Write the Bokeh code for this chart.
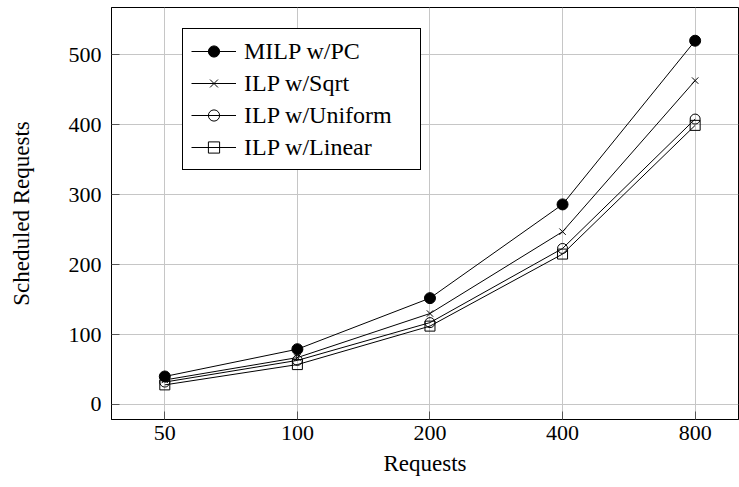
from bokeh.plotting import figure
from bokeh.models import Range1d, FixedTicker, Legend, LegendItem
from bokeh.embed import file_html
from bokeh.resources import INLINE

requests = ["50", "100", "200", "400", "800"]
milp_pc = [40, 79, 152, 286, 520]
ilp_sqrt = [35, 67, 130, 247, 463]
ilp_uniform = [32, 63, 117, 223, 408]
ilp_linear = [28, 57, 112, 215, 399]
y_ticks = [0, 100, 200, 300, 400, 500]

xs = list(range(len(requests)))
FONT = "Liberation Serif"

p = figure(width=739, height=487, output_backend="svg", toolbar_location=None,
           x_range=Range1d(-0.402, 4.327), y_range=Range1d(-21.5, 567.5),
           min_border_left=111, min_border_right=1, min_border_top=7,
           min_border_bottom=68)

p.outline_line_color = "black"
p.outline_line_alpha = 1
p.outline_line_width = 1
p.background_fill_color = "white"

p.xaxis.ticker = FixedTicker(ticks=xs)
p.xaxis.major_label_overrides = {i: s for i, s in zip(xs, requests)}
p.yaxis.ticker = FixedTicker(ticks=y_ticks)

for ax in (p.xaxis[0], p.yaxis[0]):
    ax.axis_line_color = "black"
    ax.major_tick_in = 8
    ax.major_tick_out = 0
    ax.major_tick_line_color = "#555555"
    ax.minor_tick_line_color = None
    ax.major_label_text_font = FONT
    ax.major_label_text_font_size = "22px"
    ax.major_label_text_color = "black"
    ax.axis_label_text_font = FONT
    ax.axis_label_text_font_size = "23px"
    ax.axis_label_text_font_style = "normal"
    ax.axis_label_text_color = "black"

p.xaxis.axis_label = "Requests"
p.yaxis.axis_label = "Scheduled Requests"
p.xaxis.major_label_standoff = 6
p.xaxis.axis_label_standoff = 8
p.yaxis.major_label_standoff = 10
p.yaxis.axis_label_standoff = 32

p.xgrid.grid_line_color = "#c6c6c6"
p.ygrid.grid_line_color = "#c6c6c6"
p.xgrid.ticker = FixedTicker(ticks=xs)
p.ygrid.ticker = FixedTicker(ticks=y_ticks)

items = []
specs = [
    ("MILP w/PC", milp_pc, "circle", 11, "black"),
    ("ILP w/Sqrt", ilp_sqrt, "x", 9, None),
    ("ILP w/Uniform", ilp_uniform, "circle", 10, None),
    ("ILP w/Linear", ilp_linear, "square", 10, None),
]
for label, ys, marker, size, fill in specs:
    ln = p.line(xs, ys, line_color="black", line_width=1)
    sc = p.scatter(xs, ys, marker=marker, size=size, line_color="black",
                   fill_color=fill, line_width=1)
    items.append(LegendItem(label=label, renderers=[ln, sc]))

legend = Legend(items=items, location=(71, 249))
legend.label_text_font = FONT
legend.label_text_font_size = "24px"
legend.label_text_color = "black"
legend.glyph_width = 45
legend.glyph_height = 28
legend.label_height = 28
legend.label_width = 168
legend.spacing = 4
legend.padding = 8
legend.label_standoff = 8
legend.border_line_color = "black"
legend.border_line_alpha = 1
legend.border_line_width = 1
legend.background_fill_alpha = 1
p.add_layout(legend, "center")

open("out.html", "w").write(file_html(p, INLINE))
